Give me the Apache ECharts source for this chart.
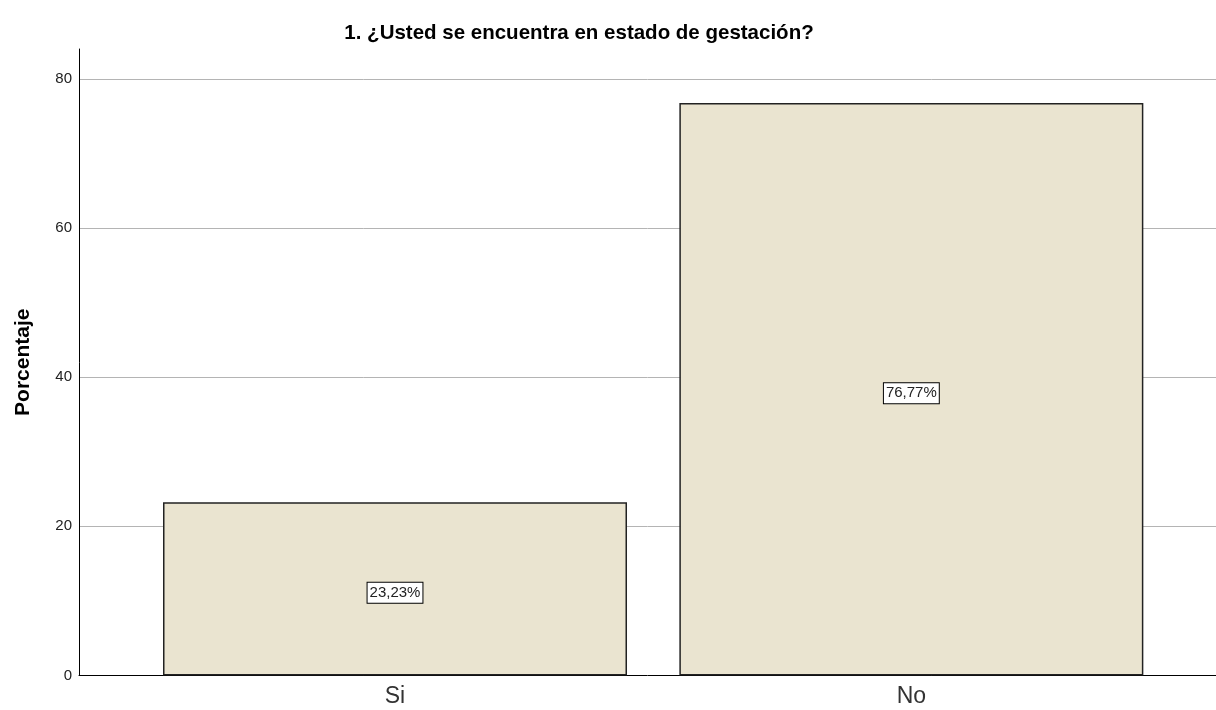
<!DOCTYPE html>
<html>
<head>
<meta charset="utf-8">
<script src="https://cdn.jsdelivr.net/npm/echarts@6/dist/echarts.min.js"></script>
<style>
html,body{margin:0;padding:0;background:#fff;}
#chart{width:1216px;height:710px;}
</style>
</head>
<body>
<div id="chart"></div>
<script>
var titleText = '1. ¿Usted se encuentra en estado de gestación?';
var categories = ['Si', 'No'];
var percentValues = [23.23, 76.77];
var yTicks = [0, 20, 40, 60, 80];
var yAxisName = 'Porcentaje';

var font = '"Liberation Sans", Arial, Helvetica, sans-serif';
var chart = echarts.init(document.getElementById('chart'), null, {renderer: 'canvas'});

var seriesData = percentValues.map(function (v, i) { return [i + 1, v]; });

chart.setOption({
  animation: false,
  backgroundColor: '#ffffff',
  textStyle: {fontFamily: font},
  title: {
    text: titleText,
    left: 574,
    textAlign: 'center',
    top: 18,
    textStyle: {fontFamily: font, fontSize: 20.5, fontWeight: 'bold', color: '#000'}
  },
  grid: {left: 79, right: 0, top: 49, bottom: 34.5, containLabel: false},
  xAxis: {
    type: 'value',
    min: 0.388,
    max: 2.59,
    axisLine: {show: true, lineStyle: {color: '#000', width: 1}},
    axisTick: {show: false},
    splitLine: {show: false},
    axisLabel: {
      customValues: categories.map(function (c, i) { return i + 1; }),
      formatter: function (v) { return categories[Math.round(v) - 1] || ''; },
      fontSize: 23,
      color: '#333',
      margin: 10,
      fontFamily: font
    }
  },
  yAxis: {
    type: 'value',
    min: 0,
    max: 84,
    interval: 20,
    name: yAxisName,
    nameLocation: 'middle',
    nameGap: 45,
    nameTextStyle: {fontFamily: font, fontSize: 21, fontWeight: 'bold', color: '#000'},
    axisLine: {show: true, lineStyle: {color: '#000', width: 1}},
    axisTick: {show: false},
    axisLabel: {
      customValues: yTicks,
      fontSize: 15,
      color: '#222',
      margin: 7,
      fontFamily: font
    },
    splitLine: {show: false}
  },
  series: [{
    type: 'bar',
    data: seriesData,
    barWidth: 464,
    itemStyle: {color: '#EAE4D0', borderColor: '#222', borderWidth: 1.5},
    label: {
      show: true,
      position: 'inside',
      offset: [0, 4],
      formatter: function (p) { return p.value[1].toFixed(2).replace('.', ',') + '%'; },
      fontSize: 15,
      color: '#222',
      fontFamily: font,
      backgroundColor: '#fff',
      borderColor: '#000',
      borderWidth: 1,
      padding: [3, 2, 2, 2]
    },
    markLine: {
      silent: true,
      symbol: 'none',
      label: {show: false},
      lineStyle: {color: '#b4b4b4', width: 1, type: 'solid'},
      data: yTicks.filter(function (t) { return t > 0; }).map(function (t) { return {yAxis: t}; }),
      z: -1
    },
    z: 2
  }]
});
</script>
</body>
</html>
